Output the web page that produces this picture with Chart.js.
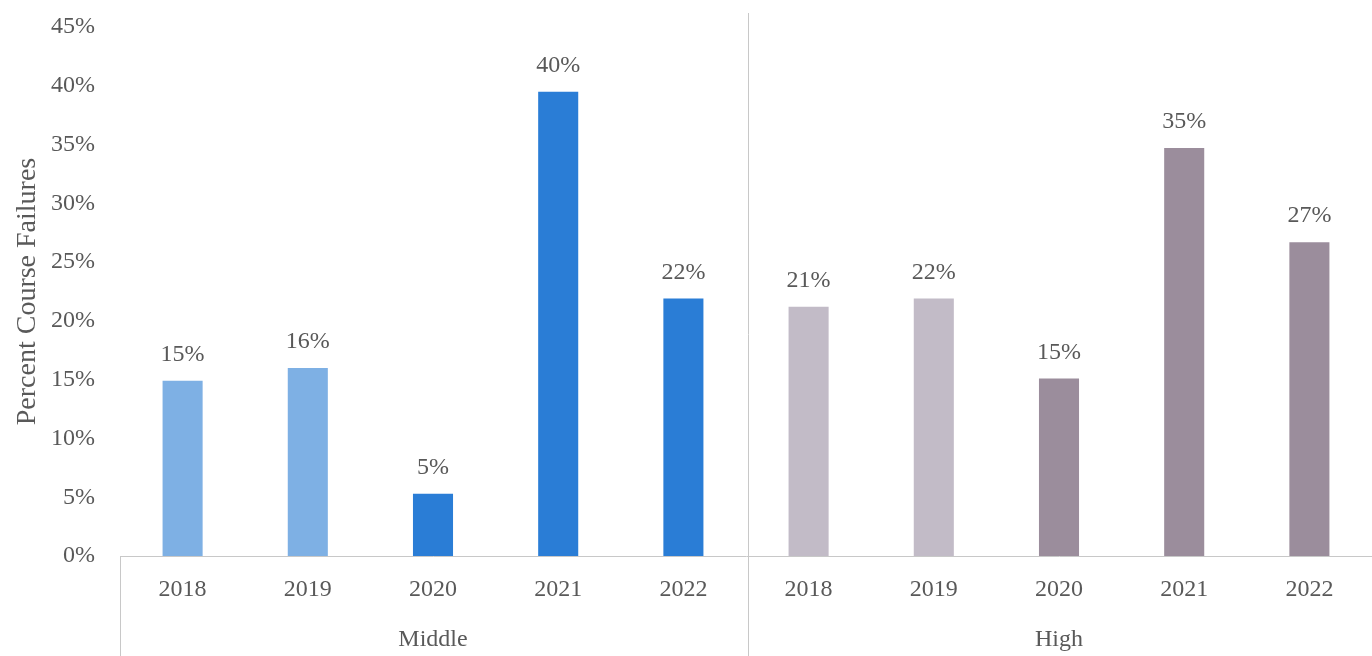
<!DOCTYPE html>
<html>
<head>
<meta charset="utf-8">
<script src="https://cdn.jsdelivr.net/npm/chart.js@4/dist/chart.umd.min.js"></script>
<style>
  html, body { margin: 0; padding: 0; background: #fff; }
  #wrap { width: 1372px; height: 656px; position: relative; }
</style>
</head>
<body>
<div id="wrap"><canvas id="failChart"></canvas></div>
<script>
// School levels and the years shown under each
const groups = ['Middle', 'High'];
const years = ['2018', '2019', '2020', '2021', '2022'];

// Percent of course failures per year
const middleValues = [14.9, 16.0, 5.3, 39.5, 21.9];
const highValues = [21.2, 21.9, 15.1, 34.7, 26.7];

const yTicks = [0, 5, 10, 15, 20, 25, 30, 35, 40, 45];

const middleColors = ['#7eb0e4', '#7eb0e4', '#2a7dd6', '#2a7dd6', '#2a7dd6'];
const highColors = ['#c2bbc7', '#c2bbc7', '#9b8d9c', '#9b8d9c', '#9b8d9c'];

const textColor = '#595959';
const lineColor = '#c8c8c8';
const fontFamily = '"Liberation Serif", "DejaVu Serif", serif';

const labels = groups.flatMap(() => years);
const values = middleValues.concat(highValues);
const colors = middleColors.concat(highColors);

// value labels above each bar
const barLabels = {
    id: 'barLabels',
    afterDatasetsDraw(chart) {
        const ctx = chart.ctx;
        const meta = chart.getDatasetMeta(0);
        ctx.save();
        ctx.font = '24px ' + fontFamily;
        ctx.fillStyle = textColor;
        ctx.textAlign = 'center';
        ctx.textBaseline = 'bottom';
        meta.data.forEach((bar, i) => {
            ctx.fillText(Math.round(values[i]) + '%', bar.x, bar.y - 14);
        });
        ctx.restore();
    }
};

// group dividers and group names under the year labels
const groupAxis = {
    id: 'groupAxis',
    afterDraw(chart) {
        const ctx = chart.ctx;
        const x = chart.scales.x;
        const area = chart.chartArea;
        const n = years.length;
        const step = x.getPixelForValue(1) - x.getPixelForValue(0);
        ctx.save();
        ctx.strokeStyle = lineColor;
        ctx.lineWidth = 1;
        ctx.font = '24px ' + fontFamily;
        ctx.fillStyle = textColor;
        ctx.textAlign = 'center';
        ctx.textBaseline = 'middle';
        for (let g = 0; g <= groups.length; g++) {
            const px = Math.round(x.getPixelForValue(g * n) - step / 2) + 2.5;
            const top = (g > 0 && g < groups.length) ? area.top - 14 : area.bottom;
            ctx.beginPath();
            ctx.moveTo(g === 0 ? px - 2 : px, top);
            ctx.lineTo(g === 0 ? px - 2 : px, chart.height);
            ctx.stroke();
        }
        groups.forEach((name, g) => {
            const mid = (x.getPixelForValue(g * n) + x.getPixelForValue(g * n + n - 1)) / 2;
            ctx.fillText(name, mid, area.bottom + 84);
        });
        ctx.restore();
    }
};

new Chart(document.getElementById('failChart'), {
    type: 'bar',
    data: {
        labels: labels,
        datasets: [{
            data: values,
            backgroundColor: colors,
            barPercentage: 0.32,
            categoryPercentage: 1.0
        }]
    },
    options: {
        responsive: true,
        maintainAspectRatio: false,
        animation: false,
        layout: { padding: { top: 27, right: 0, left: 0, bottom: 0 } },
        plugins: {
            legend: { display: false },
            tooltip: { enabled: false }
        },
        scales: {
            x: {
                grid: { display: false, drawTicks: false },
                border: { color: lineColor, width: 1 },
                ticks: {
                    color: textColor,
                    font: { family: fontFamily, size: 24 },
                    padding: 19,
                    maxRotation: 0,
                    autoSkip: false
                },
                afterFit(scale) { scale.height = 100; }
            },
            y: {
                min: 0,
                max: 45,
                afterBuildTicks(scale) {
                    scale.ticks = yTicks.map(v => ({ value: v }));
                },
                grid: { display: false, drawTicks: false },
                border: { display: false },
                ticks: {
                    color: textColor,
                    font: { family: fontFamily, size: 24 },
                    padding: 25,
                    callback: v => v + '%'
                },
                title: {
                    display: true,
                    text: 'Percent Course Failures',
                    color: textColor,
                    font: { family: fontFamily, size: 28 },
                    padding: { top: 11, bottom: 0 }
                },
                afterFit(scale) {
                    scale.width = 120;
                    scale.paddingTop = 0;
                    scale.paddingBottom = 0;
                }
            }
        }
    },
    plugins: [barLabels, groupAxis]
});
</script>
</body>
</html>
